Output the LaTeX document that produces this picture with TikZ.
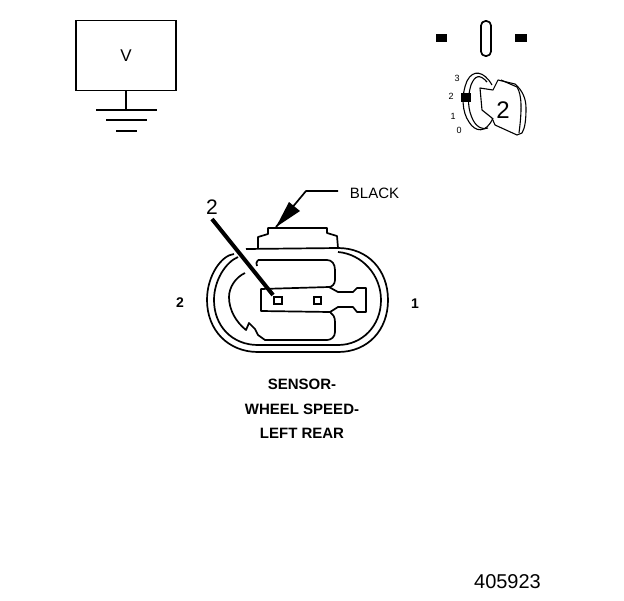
\documentclass[tikz,border=0pt]{standalone}
\usepackage{fontspec}
\setmainfont{Liberation Sans}
\begin{document}
\begin{tikzpicture}[x=1pt,y=-1pt,
  ln/.style={draw=black,line width=1.7pt,line join=round},
  thin ln/.style={draw=black,line width=1.1pt,line join=round},
  lab/.style={inner sep=0pt,font=\fontsize{15}{15}\selectfont},
  klab/.style={inner sep=0pt,font=\fontsize{9}{9}\selectfont},
  blab/.style={inner sep=0pt,font=\bfseries\fontsize{15}{15}\selectfont}]
\useasboundingbox[fill=white] (0,0) rectangle (624,600);
% voltmeter
\node[draw=black,line width=1.7pt,minimum width=100pt,minimum height=70pt,inner sep=0pt,
  font=\fontsize{17}{17}\selectfont] (vbox) at (126,55.5) {V};
\coordinate (g1) at (126,110);
\draw[ln] (vbox.south) -- (g1);
\draw[ln] (96,110) -- (157,110);
\draw[ln] (106,120) -- (147,120);
\draw[ln] (116,131) -- (137,131);
% top right symbols
\fill (436,34) rectangle (447,42);
\fill (515,34) rectangle (527,42);
\draw[ln,rounded corners=4.5pt] (481,21) rectangle (491,56);
\node[klab] (k3) at (457,78) {3};
\node[klab] (k2) at (451,96) {2};
\node[klab] (k1) at (453,116) {1};
\node[klab] (k0) at (459,130) {0};
\draw[thin ln] (492,85) .. controls (484,71) and (473,69) .. (467,81) .. controls (461,95) and (462,112) .. (469,122) .. controls (475,132) and (486,134) .. (493,118);
\draw[thin ln] (487,82) .. controls (480,74) and (475,75) .. (471,85) .. controls (467,98) and (468,110) .. (473,120) .. controls (477,128) and (484,130) .. (488,128);
\draw[thin ln] (493,90) -- (498,80) -- (515,84) .. controls (522,90) and (526,98) .. (526,108) .. controls (526,120) and (525,128) .. (522,133) -- (517,135) -- (495,125) -- (492,118) -- (482,110) -- (480,88) -- cycle;
\draw[thin ln] (501,80) -- (517,87) .. controls (522,95) and (522,110) .. (519,133);
\fill (461,93) rectangle (471,102);
\node[lab,font=\fontsize{24}{24}\selectfont] (big2) at (503,110) {2};
% connector body
\draw[ln] (258,248) -- (258,237) -- (268,234) -- (268,228) -- (327,228) -- (327,233) -- (337,236) -- (338,248);
\draw[ln] (246,249) -- (338,248) .. controls (368,248) and (388,270) .. (388,300) .. controls (388,330) and (368,352) .. (338,352) -- (258,352) .. controls (228,352) and (207,330) .. (207,300) .. controls (207,275) and (222,255) .. (234,254);
\draw[ln] (338,252) .. controls (362,254) and (381,275) .. (381,300) .. controls (381,326) and (362,345) .. (338,345) -- (258,345) .. controls (232,345) and (214,326) .. (214,300) .. controls (214,280) and (226,262) .. (238,257);
% cavity
\draw[ln] (258,260) -- (327,260) .. controls (332,260) and (335,264) .. (335,270) -- (335,280) .. controls (335,284) and (332,287) .. (329,287) -- (261,289) -- (261,311) -- (330,312) .. controls (333,314) and (335,317) .. (335,322) -- (335,332) .. controls (335,337) and (331,340) .. (327,340) -- (265,340) -- (258,335) -- (255,329) -- (249,323) -- (246,330) .. controls (236,322) and (229,310) .. (229,297) .. controls (229,287) and (236,277) .. (245,273);
\draw[ln] (258,260) .. controls (256,262) and (256,264) .. (257,266);
\draw[ln] (329,287) -- (338,292) -- (353,292) -- (357,288) -- (366,288) -- (366,312) -- (357,312) -- (353,307) -- (338,307) -- (330,312);
% terminals
\draw[line width=2pt] (274,297) rectangle (282,304);
\draw[line width=2pt] (314,297) rectangle (321,304);
% labels
\node[lab] (black) at (374.5,193) {BLACK};
\node[lab,font=\fontsize{21}{21}\selectfont] (two) at (212,207) {2};
\node[blab,font=\bfseries\fontsize{14}{14}\selectfont] (pin2) at (180,303) {2};
\node[blab,font=\bfseries\fontsize{14}{14}\selectfont] (pin1) at (415,304) {1};
\node[blab] (s1) at (302,384) {SENSOR-};
\node[blab] (s2) at (302,409) {WHEEL SPEED-};
\node[blab] (s3) at (302,433) {LEFT REAR};
\node[lab,font=\fontsize{20}{20}\selectfont] (num) at (507.5,582) {405923};
% arrows
\coordinate (t1) at (212,219);
\coordinate (t2) at (273,295);
\draw[line width=4pt] (t1) -- (t2);
\coordinate (b1) at (338,191);
\coordinate (b2) at (306,191);
\coordinate (b3) at (276,227);
\draw[ln] (b1) -- (b2) -- (b3);
\fill (b3) -- (289,202) -- (300,211) -- cycle;
\end{tikzpicture}
\end{document}
